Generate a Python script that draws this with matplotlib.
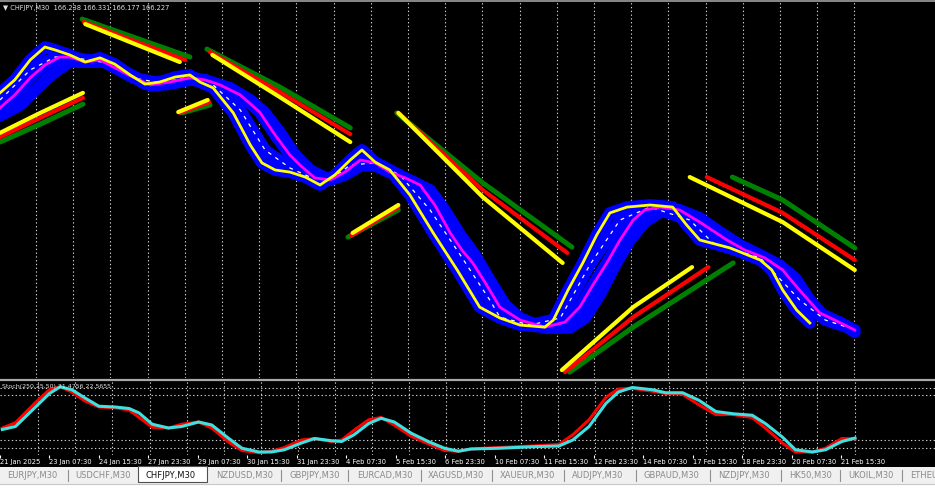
import numpy as np
import matplotlib.pyplot as plt
from matplotlib.patches import Rectangle
from matplotlib.lines import Line2D

# CHFJPY M30 chart, x = bar number counted from the left edge of the window
header_text = "\u25bc CHFJPY,M30  166.238 166.331 166.177 166.227"
stoch_text = "Stoch(250,25,50) 21.4756 22.5655"

# --- moving average ribbon (price) ---
fast_x = [0, 19, 39, 58, 71, 90, 110, 129, 148, 168, 187, 206, 226, 245, 258, 275, 301, 323, 338, 355,
          374, 394, 413, 432, 452, 467, 484, 503, 529, 559, 590, 619, 645, 671, 703, 714, 733, 752, 770,
          787, 809, 839, 868, 886, 903, 942, 981, 996, 1010, 1028, 1045]
fast_y = [171.92, 172.23, 172.71, 173.02, 172.95, 172.83, 172.66, 172.76, 172.61, 172.35, 172.13, 172.18,
          172.30, 172.35, 172.18, 172.04, 171.44, 170.67, 170.24, 170.07, 170.02, 169.90, 169.71, 169.95,
          170.31, 170.55, 170.26, 170.07, 169.47, 168.56, 167.67, 166.78, 166.52, 166.35, 166.30, 166.47,
          167.19, 167.84, 168.51, 169.04, 169.18, 169.23, 169.18, 168.75, 168.39, 168.20, 167.91, 167.67,
          167.19, 166.71, 166.40]

mid_x = [0, 19, 39, 58, 77, 90, 110, 129, 168, 194, 219, 245, 265, 284, 310, 335, 355, 374, 387, 406, 426,
         445, 465, 484, 503, 523, 542, 561, 581, 596, 610, 628, 645, 671, 703, 729, 748, 765, 783, 800, 817,
         832, 852, 877, 903, 938, 961, 987, 1010, 1026, 1043, 1058, 1077, 1090, 1103]
mid_y = [171.56, 171.87, 172.28, 172.59, 172.78, 172.78, 172.66, 172.71, 172.33, 172.11, 172.18, 172.28,
         172.23, 172.11, 171.87, 171.46, 170.91, 170.43, 170.19, 169.88, 169.83, 170.02, 170.31, 170.24,
         170.02, 169.88, 169.71, 169.23, 168.56, 168.15, 167.84, 167.31, 166.78, 166.47, 166.30, 166.42,
         166.78, 167.31, 167.84, 168.39, 168.87, 169.11, 169.18, 169.11, 168.82, 168.39, 168.15, 167.96,
         167.67, 167.31, 166.95, 166.64, 166.47, 166.35, 166.23]

slow_x = [0, 26, 52, 71, 90, 116, 135, 168, 194, 219, 245, 271, 297, 323, 342, 361, 381, 400, 426, 445,
          465, 484, 510, 535, 555, 574, 594, 613, 632, 652, 671, 703, 735, 755, 774, 794, 813, 832, 852,
          877, 903, 929, 955, 981, 1006, 1026, 1045, 1065, 1084, 1103]
slow_y = [171.37, 171.63, 172.11, 172.42, 172.66, 172.66, 172.66, 172.37, 172.09, 172.13, 172.23, 172.18,
          172.04, 171.75, 171.44, 170.98, 170.43, 170.07, 169.83, 169.95, 170.17, 170.17, 169.95, 169.76,
          169.59, 169.11, 168.51, 168.03, 167.43, 166.83, 166.52, 166.28, 166.28, 166.52, 167.07, 167.79,
          168.39, 168.82, 169.06, 169.11, 168.92, 168.58, 168.27, 168.03, 167.79, 167.48, 166.95, 166.52,
          166.42, 166.18]

base_x = [0, 39, 71, 97, 138, 172, 206, 245, 271, 310, 342, 374, 400, 426, 452, 484, 516, 555, 594, 632,
          645, 684, 723, 761, 800, 839, 890, 920, 981, 1032, 1065, 1093]
base_y = [171.75, 172.47, 172.78, 172.76, 172.64, 172.28, 172.16, 172.30, 172.18, 171.51, 170.55, 170.12,
          169.90, 169.83, 170.19, 170.24, 169.95, 169.11, 168.03, 166.95, 166.54, 166.35, 166.52, 167.79,
          168.87, 169.18, 168.87, 168.32, 167.96, 166.95, 166.47, 166.30]

# --- signal lines (yellow / red / green), one (x, y) pair per segment ---
yellow_segs = [([0, 52, 107], [170.96, 171.44, 171.92]),
               ([110, 232], [173.57, 172.66]),
               ([230, 268], [171.46, 171.75]),
               ([274, 361, 452], [172.83, 171.82, 170.74]),
               ([455, 514], [168.56, 169.23]),
               ([514, 623, 726], [171.44, 169.42, 167.84]),
               ([725, 817, 893], [165.27, 166.78, 167.74]),
               ([890, 1010, 1103], [169.90, 168.82, 167.67])]
red_segs = [([0, 52, 107], [170.86, 171.32, 171.80]),
            ([108, 239], [173.62, 172.71]),
            ([232, 270], [171.44, 171.70]),
            ([271, 361, 452], [172.90, 171.94, 170.93]),
            ([453, 514], [168.49, 169.18]),
            ([514, 623, 732], [171.44, 169.59, 168.08]),
            ([729, 817, 914], [165.22, 166.54, 167.74]),
            ([912, 1010, 1103], [169.90, 169.04, 167.91])]
green_segs = [([0, 52, 107], [170.74, 171.17, 171.65]),
              ([106, 245], [173.69, 172.78]),
              ([235, 271], [171.44, 171.63]),
              ([267, 361, 452], [172.97, 172.06, 171.08]),
              ([449, 514], [168.46, 169.11]),
              ([512, 623, 738], [171.44, 169.76, 168.22]),
              ([735, 817, 946], [165.22, 166.30, 167.84]),
              ([945, 1010, 1103], [169.90, 169.35, 168.20])]

# --- stochastic ---
stoch_x = [0, 17, 43, 61, 75, 90, 107, 125, 146, 164, 177, 194, 215, 232, 254, 271, 293, 310, 332, 348,
           365, 387, 404, 426, 439, 455, 474, 490, 507, 529, 551, 572, 590, 606, 643, 686, 720, 738, 759,
           781, 797, 815, 841, 858, 880, 901, 923, 945, 970, 987, 1009, 1026, 1048, 1065, 1086, 1103]
stoch_signal = [34, 38, 64, 82, 91, 87, 76, 65, 64, 62, 56, 41, 36, 38, 44, 40, 22, 9, 4, 4, 7, 16, 22, 19,
                18, 27, 42, 49, 44, 29, 18, 9, 5, 8, 9, 11, 12, 20, 38, 69, 84, 90, 87, 83, 83, 73, 58,
                55, 53, 42, 24, 7, 4, 7, 18, 22.57]
stoch_main = [36, 43, 70, 87, 91, 84, 72, 64, 63, 60, 50, 37, 36, 41, 44, 36, 17, 6, 3, 5, 10, 20, 22, 18,
              20, 33, 47, 50, 40, 25, 15, 6, 5, 8, 10, 12, 14, 27, 47, 77, 88, 89, 85, 82, 81, 67, 54,
              54, 50, 36, 16, 4, 4, 9, 22, 21.48]

date_labels = ["21 Jan 2025", "23 Jan 07:30", "24 Jan 15:30", "27 Jan 23:30", "29 Jan 07:30",
               "30 Jan 15:30", "31 Jan 23:30", "4 Feb 07:30", "5 Feb 15:30", "6 Feb 23:30",
               "10 Feb 07:30", "11 Feb 15:30", "12 Feb 23:30", "14 Feb 07:30", "17 Feb 15:30",
               "18 Feb 23:30", "20 Feb 07:30", "21 Feb 15:30"]
tabs = ["EURJPY,M30", "USDCHF,M30", "CHFJPY,M30", "NZDUSD,M30", "GBPJPY,M30", "EURCAD,M30",
        "XAGUSD,M30", "XAUEUR,M30", "AUDJPY,M30", "GBPAUD,M30", "NZDJPY,M30", "HK50,M30",
        "UKOIL,M30", "ETHEUR,M30"]
tab_left = [7, 75, 145, 216, 289, 357, 428, 500, 572, 644, 718, 789, 848, 910]
tab_seps = [68, 281, 348, 421, 492, 564, 636, 710, 781, 840, 902]

W, H = 935, 488
XMAX = 1206.5
grid_x = np.arange(46.5, 1104, 48)
label_x = np.arange(len(date_labels)) * 64 - 3


def fy(row):
    return 1 - row / H


fig = plt.figure(figsize=(W / 100, H / 100), dpi=100, facecolor='black')
ax = fig.add_axes([0, fy(378), 1, 376 / H])
ax2 = fig.add_axes([0, fy(455), 1, 75 / H])

for a in (ax, ax2):
    a.set_facecolor('black')
    a.set_xlim(0, XMAX)
    for s in a.spines.values():
        s.set_visible(False)
    a.set_yticks([])
    for g in grid_x:
        a.axvline(g, color='#d0d0d0', lw=0.8, ls=(0, (1.2, 2.2)), zorder=0)

ax.set_ylim(165.08, 174.10)
ax.set_xticks([])

# ribbon
for xs, ys in [(slow_x, slow_y), (mid_x, mid_y), (base_x, base_y), (fast_x, fast_y)]:
    ax.plot(xs, ys, color='#0000ff', lw=8.5, solid_capstyle='round', solid_joinstyle='round', zorder=2)
ax.plot(base_x, base_y, color='white', lw=0.9, ls=(0, (3, 4)), zorder=3)
ax.plot(mid_x, mid_y, color='#ff00ff', lw=2.0, solid_joinstyle='round', zorder=4)
ax.plot(fast_x, fast_y, color='#ffff00', lw=2.0, solid_joinstyle='round', zorder=5)

# signal lines
for segs, col, lw in [(green_segs, '#008000', 3.6), (red_segs, '#ff0000', 3.0), (yellow_segs, '#ffff00', 3.0)]:
    for xs, ys in segs:
        ax.plot(xs, ys, color=col, lw=lw, solid_capstyle='round', zorder=6)

ax.text(0.003, 0.993, header_text, transform=ax.transAxes, color='#e0e0e0', fontsize=4.8,
        va='top', ha='left')

# stochastic panel
ax2.set_ylim(0, 100)
for lv in [10, 20, 80, 90]:
    ax2.axhline(lv, color='#d0d0d0', lw=0.8, ls=(0, (1.2, 2.2)), zorder=0)
ax2.plot(stoch_x, stoch_main, color='#ff0000', lw=2.2, solid_joinstyle='round', zorder=2)
ax2.plot(stoch_x, stoch_signal, color='#3ee0e0', lw=2.2, solid_joinstyle='round', zorder=3)
ax2.text(0.002, 0.95, stoch_text, transform=ax2.transAxes, color='#e0e0e0', fontsize=4.5,
         va='top', ha='left')
ax2.set_xticks(label_x)
ax2.set_xticklabels(date_labels)
ax2.tick_params(axis='x', colors='white', length=2.5, width=0.8, pad=0.5, labelsize=4.9)
for lbl in ax2.get_xticklabels():
    lbl.set_horizontalalignment('left')

# window chrome
fig.add_artist(Line2D([0, 1], [fy(0.8)] * 2, color='#a0a0a0', lw=1.2))
fig.add_artist(Line2D([0, 1], [fy(379.5)] * 2, color='#a8a8a8', lw=1.6))
fig.add_artist(Rectangle((0, 0), 1, fy(467), transform=fig.transFigure, facecolor='#f0f0f0',
                         edgecolor='none', zorder=5))
fig.add_artist(Rectangle((0, 0), 1, fy(483.5), transform=fig.transFigure, facecolor='white',
                         edgecolor='none', zorder=5))
fig.add_artist(Line2D([0, 1], [fy(483.5)] * 2, color='#c8c8c8', lw=0.8, zorder=6))
fig.add_artist(Rectangle((138 / W, fy(482)), 69 / W, 16 / H, transform=fig.transFigure,
                         facecolor='white', edgecolor='#505050', lw=0.8, zorder=6))
for sx in tab_seps:
    fig.add_artist(Line2D([sx / W] * 2, [fy(470), fy(481)], color='#909090', lw=0.8, zorder=6))
for name, tx in zip(tabs, tab_left):
    active = name == "CHFJPY,M30"
    t = fig.text(tx / W, fy(475.5), name, color='#111111' if active else '#8a8a8a', fontsize=6.0,
                 va='center', ha='left', zorder=7)
    t.set_clip_on(True)

fig.savefig('out.png', dpi=100, facecolor='black')
